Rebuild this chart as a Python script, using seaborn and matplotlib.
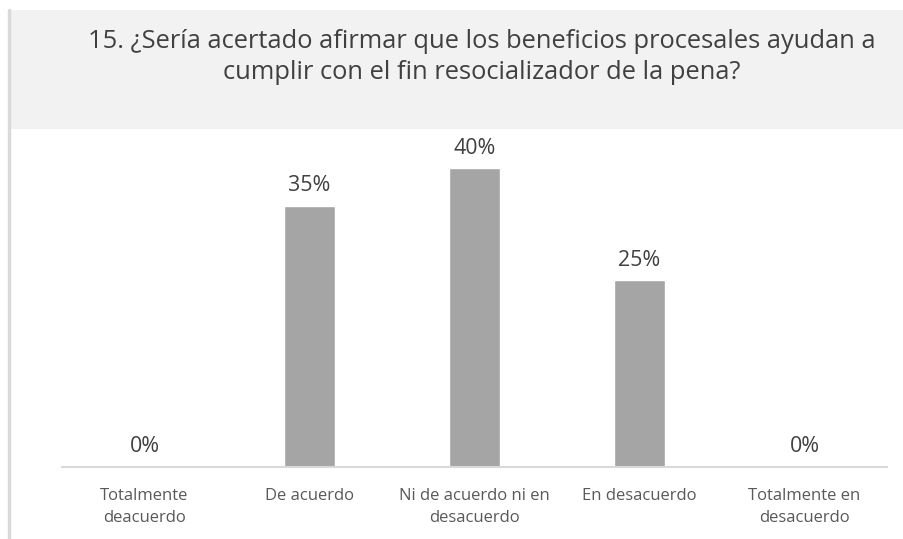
import matplotlib
matplotlib.use("Agg")
import matplotlib.pyplot as plt
import seaborn as sns
import pandas as pd
from matplotlib.patches import Rectangle
from matplotlib.lines import Line2D

categories = ["Totalmente\ndeacuerdo", "De acuerdo", "Ni de acuerdo ni en\ndesacuerdo",
              "En desacuerdo", "Totalmente en\ndesacuerdo"]
values = [0.00, 0.35, 0.40, 0.25, 0.00]
value_labels = ["0%", "35%", "40%", "25%", "0%"]
title = "15. ¿Sería acertado afirmar que los beneficios procesales ayudan a\ncumplir con el fin resocializador de la pena?"

sns.set_theme(style="white")
plt.rcParams['font.family'] = ['Open Sans', 'DejaVu Sans']

W, H = 904, 539
fig = plt.figure(figsize=(W / 100, H / 100), dpi=100)
fig.patch.set_facecolor("white")

# title band
fig.patches.append(Rectangle((11 / W, 1 - 129 / H), 1 - 11 / W, 119 / H,
                             transform=fig.transFigure, facecolor="#f2f2f2",
                             edgecolor="none", zorder=0))
fig.lines.append(Line2D([9 / W, 9 / W], [0, 1 - 10 / H], transform=fig.transFigure,
                        color="#d9d9d9", linewidth=2.5))
fig.text(482 / W, 1 - 57 / H, title, ha="center", va="center", fontsize=18.4,
         color="#404040", linespacing=1.3)

ax = fig.add_axes([62 / W, 1 - 467 / H, 825 / W, 336 / H])
ax.set_facecolor("none")
df = pd.DataFrame({"cat": categories, "val": values})
sns.barplot(data=df, x="cat", y="val", order=categories, color="#a5a5a5",
            width=0.315, saturation=1, ax=ax)
ax.set_ylim(0, 0.45)
ax.set_xlim(-0.5, len(categories) - 0.5)
ax.bar_label(ax.containers[0], labels=value_labels, padding=7, fontsize=15.4,
             color="#404040")
ax.set_xlabel("")
ax.set_ylabel("")
ax.set_yticks([])
for s in ["left", "right", "top"]:
    ax.spines[s].set_visible(False)
ax.spines["bottom"].set_color("#d9d9d9")
ax.spines["bottom"].set_linewidth(1.5)
ax.tick_params(axis="x", length=0, pad=15, labelsize=12, labelcolor="#595959")
for t in ax.get_xticklabels():
    t.set_linespacing(1.5)

fig.savefig("out.png", dpi=100)
